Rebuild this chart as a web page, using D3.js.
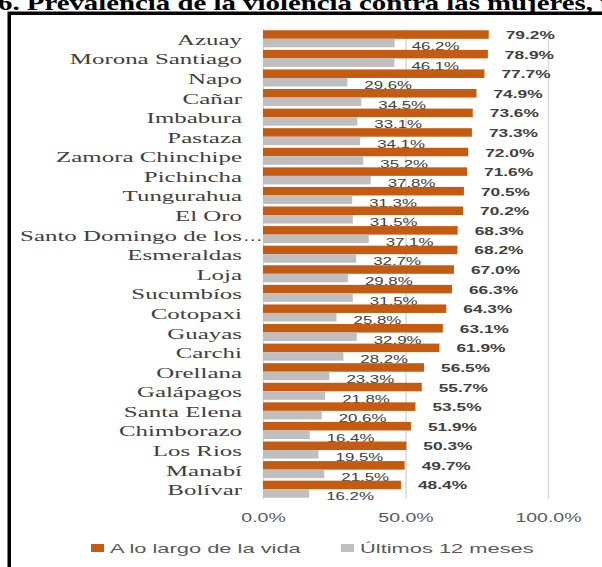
<!DOCTYPE html>
<html>
<head>
<meta charset="utf-8">
<script src="https://cdn.jsdelivr.net/npm/d3@7"></script>
<style>
  html, body { margin: 0; padding: 0; background: #fff; }
  svg { display: block; }
</style>
</head>
<body>
<svg id="chart" width="602" height="567"></svg>
<script>
const titleText = "6. Prevalencia de la violencia contra las mujeres, por provincia";
const categories = ["Azuay", "Morona Santiago", "Napo", "Cañar", "Imbabura", "Pastaza",
  "Zamora Chinchipe", "Pichincha", "Tungurahua", "El Oro", "Santo Domingo de los…",
  "Esmeraldas", "Loja", "Sucumbíos", "Cotopaxi", "Guayas", "Carchi", "Orellana",
  "Galápagos", "Santa Elena", "Chimborazo", "Los Rios", "Manabí", "Bolívar"];
const lifetime = [79.2, 78.9, 77.7, 74.9, 73.6, 73.3, 72.0, 71.6, 70.5, 70.2, 68.3, 68.2,
  67.0, 66.3, 64.3, 63.1, 61.9, 56.5, 55.7, 53.5, 51.9, 50.3, 49.7, 48.4];
const last12 = [46.2, 46.1, 29.6, 34.5, 33.1, 34.1, 35.2, 37.8, 31.3, 31.5, 37.1, 32.7,
  29.8, 31.5, 25.8, 32.9, 28.2, 23.3, 21.8, 20.6, 16.4, 19.5, 21.5, 16.2];
const seriesNames = ["A lo largo de la vida", "Últimos 12 meses"];
const seriesKeys = ["life", "year"];
const tickValues = [0, 50, 100];

const colors = { life: "#C55A11", year: "#BFBFBF" };
const textColor = "#404040";

const svg = d3.select("#chart");

// Title (cropped at top, as in the reference)
svg.append("text")
  .attr("font-family", "'Liberation Serif', 'Times New Roman', serif")
  .attr("font-weight", "bold")
  .attr("font-size", 22)
  .attr("fill", "#000")
  .attr("transform", "translate(-2,10) scale(1.31,1)")
  .text(titleText);

// Frame
svg.append("path")
  .attr("d", "M9.25,620 L9.25,13.25 L620,13.25")
  .attr("fill", "none")
  .attr("stroke", "#000")
  .attr("stroke-width", 3.5);

const plotTop = 29, plotBottom = 499;
const x = d3.scaleLinear().domain([0, 100]).range([263, 548]);
const y = d3.scaleBand().domain(categories).range([plotTop, plotBottom])
  .paddingInner(0.13).paddingOuter(0.065);
const ySub = d3.scaleBand().domain(seriesKeys).range([0, y.bandwidth()]);

// Gridlines + tick labels via axis
const axis = d3.axisBottom(x)
  .tickValues(tickValues)
  .tickSize(-(plotBottom - plotTop))
  .tickFormat(d => d.toFixed(1) + "%");
const gAxis = svg.append("g")
  .attr("transform", `translate(0,${plotBottom})`)
  .call(axis);
gAxis.select(".domain").remove();
gAxis.selectAll("line").attr("stroke", "#D9D9D9").attr("stroke-width", 1.5);
gAxis.selectAll("text")
  .attr("y", null).attr("dy", null)
  .attr("fill", "#595959")
  .attr("font-family", "'Liberation Sans', Arial, sans-serif")
  .attr("font-size", 13)
  .attr("transform", "translate(0,22.5) scale(1.5,1)");

const data = categories.map((c, i) => ({ cat: c, life: lifetime[i], year: last12[i] }));

const groups = svg.append("g").selectAll("g")
  .data(data).join("g")
  .attr("transform", d => `translate(0,${y(d.cat)})`);

groups.selectAll("rect")
  .data(d => seriesKeys.map(k => ({ key: k, value: d[k] })))
  .join("rect")
  .attr("x", x(0))
  .attr("y", d => ySub(d.key))
  .attr("width", d => x(d.value) - x(0))
  .attr("height", ySub.bandwidth())
  .attr("fill", d => colors[d.key]);

// Value labels
groups.selectAll("text.val")
  .data(d => seriesKeys.map(k => ({ key: k, value: d[k] })))
  .join("text")
  .attr("class", "val")
  .attr("font-family", "'Liberation Sans', Arial, sans-serif")
  .attr("font-size", d => d.key === "life" ? 10.5 : 11)
  .attr("font-weight", d => d.key === "life" ? "bold" : "normal")
  .attr("fill", textColor)
  .attr("transform", d => {
    const tx = x(d.value) + 17;
    const ty = ySub(d.key) + ySub.bandwidth() / 2 + (d.key === "life" ? 4.5 : 7);
    const s = d.key === "life" ? 1.65 : 1.53;
    return `translate(${tx},${ty}) scale(${s},1)`;
  })
  .text(d => d.value.toFixed(1) + "%");

// Category labels
const catFont = "'Liberation Serif', 'Times New Roman', serif";
groups.each(function(d) {
  const g = d3.select(this);
  const cy = y.bandwidth() / 2 + 6;
  const trunc = d.cat.endsWith("…");
  const name = trunc ? d.cat.slice(0, -1) : d.cat;
  g.append("text")
    .attr("font-family", catFont)
    .attr("font-size", 15)
    .attr("fill", textColor)
    .attr("text-anchor", "end")
    .attr("transform", `translate(242,${cy}) scale(1.66,1)`)
    .text(name);
  if (trunc) {
    g.append("text")
      .attr("font-family", catFont)
      .attr("font-size", 15)
      .attr("fill", textColor)
      .attr("transform", `translate(243,${cy}) scale(1.3,1)`)
      .text("…");
  }
});

// Legend
const legendItems = [
  { key: "life", name: seriesNames[0], x: 91 },
  { key: "year", name: seriesNames[1], x: 341 }
];
const lg = svg.append("g").selectAll("g").data(legendItems).join("g")
  .attr("transform", d => `translate(${d.x},544)`);
lg.append("rect").attr("width", 13).attr("height", 8).attr("fill", d => colors[d.key]);
lg.append("text")
  .attr("font-family", "'Liberation Sans', Arial, sans-serif")
  .attr("font-size", 12.5)
  .attr("fill", "#595959")
  .attr("transform", "translate(19,8.5) scale(1.75,1)")
  .text(d => d.name);
</script>
</body>
</html>
